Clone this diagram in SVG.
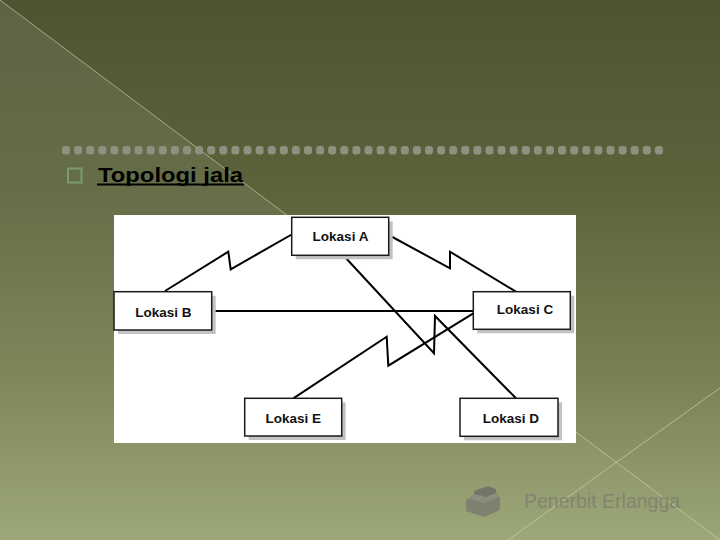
<svg xmlns="http://www.w3.org/2000/svg" width="720" height="540" viewBox="0 0 720 540">
<defs>
<linearGradient id="bg" x1="0" y1="0" x2="0" y2="1">
<stop offset="0" stop-color="#4e5432"/>
<stop offset="0.35" stop-color="#5b633b"/>
<stop offset="0.7" stop-color="#7a8254"/>
<stop offset="1" stop-color="#9ba677"/>
</linearGradient>
<linearGradient id="tri" x1="0" y1="0" x2="0" y2="1">
<stop offset="0" stop-color="#ffffff" stop-opacity="0.09"/>
<stop offset="1" stop-color="#ffffff" stop-opacity="0.02"/>
</linearGradient>
</defs>
<style>
.box{fill:#ffffff;stroke:#1a1a1a;stroke-width:1.5}
.shadow{fill:#c2c2c2}
.lbl{font-family:"Liberation Sans",Arial,sans-serif;font-weight:bold;font-size:13.5px;fill:#111;text-anchor:middle}
.link{fill:none;stroke:#000;stroke-width:2;stroke-linejoin:miter}
.deco{stroke:#d8dcae;stroke-width:1;opacity:0.6;fill:none}
</style>
<rect width="720" height="540" fill="url(#bg)"/>
<polygon points="0,0 720,540 0,540" fill="url(#tri)"/>
<line class="deco" x1="0" y1="0" x2="720" y2="540"/>
<line class="deco" x1="720" y1="388" x2="508" y2="540"/>

<g id="dotted-rule" fill="#8e9080">
<rect x="62" y="146" width="8" height="8.5" rx="3"/><rect x="74.1" y="146" width="8" height="8.5" rx="3"/><rect x="86.2" y="146" width="8" height="8.5" rx="3"/><rect x="98.3" y="146" width="8" height="8.5" rx="3"/><rect x="110.4" y="146" width="8" height="8.5" rx="3"/><rect x="122.5" y="146" width="8" height="8.5" rx="3"/><rect x="134.6" y="146" width="8" height="8.5" rx="3"/><rect x="146.7" y="146" width="8" height="8.5" rx="3"/><rect x="158.8" y="146" width="8" height="8.5" rx="3"/><rect x="170.9" y="146" width="8" height="8.5" rx="3"/><rect x="183" y="146" width="8" height="8.5" rx="3"/><rect x="195.1" y="146" width="8" height="8.5" rx="3"/><rect x="207.2" y="146" width="8" height="8.5" rx="3"/><rect x="219.3" y="146" width="8" height="8.5" rx="3"/><rect x="231.4" y="146" width="8" height="8.5" rx="3"/><rect x="243.5" y="146" width="8" height="8.5" rx="3"/><rect x="255.6" y="146" width="8" height="8.5" rx="3"/><rect x="267.7" y="146" width="8" height="8.5" rx="3"/><rect x="279.8" y="146" width="8" height="8.5" rx="3"/><rect x="291.9" y="146" width="8" height="8.5" rx="3"/><rect x="304" y="146" width="8" height="8.5" rx="3"/><rect x="316.1" y="146" width="8" height="8.5" rx="3"/><rect x="328.2" y="146" width="8" height="8.5" rx="3"/><rect x="340.3" y="146" width="8" height="8.5" rx="3"/><rect x="352.4" y="146" width="8" height="8.5" rx="3"/><rect x="364.5" y="146" width="8" height="8.5" rx="3"/><rect x="376.6" y="146" width="8" height="8.5" rx="3"/><rect x="388.7" y="146" width="8" height="8.5" rx="3"/><rect x="400.8" y="146" width="8" height="8.5" rx="3"/><rect x="412.9" y="146" width="8" height="8.5" rx="3"/><rect x="425" y="146" width="8" height="8.5" rx="3"/><rect x="437.1" y="146" width="8" height="8.5" rx="3"/><rect x="449.2" y="146" width="8" height="8.5" rx="3"/><rect x="461.3" y="146" width="8" height="8.5" rx="3"/><rect x="473.4" y="146" width="8" height="8.5" rx="3"/><rect x="485.5" y="146" width="8" height="8.5" rx="3"/><rect x="497.6" y="146" width="8" height="8.5" rx="3"/><rect x="509.7" y="146" width="8" height="8.5" rx="3"/><rect x="521.8" y="146" width="8" height="8.5" rx="3"/><rect x="533.9" y="146" width="8" height="8.5" rx="3"/><rect x="546" y="146" width="8" height="8.5" rx="3"/><rect x="558.1" y="146" width="8" height="8.5" rx="3"/><rect x="570.2" y="146" width="8" height="8.5" rx="3"/><rect x="582.3" y="146" width="8" height="8.5" rx="3"/><rect x="594.4" y="146" width="8" height="8.5" rx="3"/><rect x="606.5" y="146" width="8" height="8.5" rx="3"/><rect x="618.6" y="146" width="8" height="8.5" rx="3"/><rect x="630.7" y="146" width="8" height="8.5" rx="3"/><rect x="642.8" y="146" width="8" height="8.5" rx="3"/><rect x="654.9" y="146" width="8" height="8.5" rx="3"/>
</g>

<g id="title">
<rect x="68" y="168.5" width="13.5" height="14" fill="none" stroke="#7c9c6c" stroke-width="2"/>
<text x="98" y="181.5" font-family="'Liberation Sans',Arial,sans-serif" font-weight="bold" font-size="21" fill="#000" textLength="145" lengthAdjust="spacingAndGlyphs">Topologi jala</text>
<rect x="97" y="183.5" width="147" height="2" fill="#000"/>
</g>

<rect x="114" y="215" width="462" height="228" fill="#ffffff"/>

<g id="connectors">
<polyline class="link" points="165,291 228.3,251.7 230.7,269.3 291.7,234.5"/>
<polyline class="link" points="388.7,235 450,268.3 450,251.7 516,291.7"/>
<line class="link" x1="211.7" y1="311" x2="473.3" y2="311"/>
<polyline class="link" points="343.3,255.3 434,353.3 435,316 516,398.3"/>
<polyline class="link" points="293.3,398.3 386.7,336.7 388.3,365.7 473.3,313.3"/>
</g>

<g id="node-a">
<rect class="shadow" x="295.7" y="221.3" width="97" height="38"/>
<rect class="box" x="291.7" y="217.3" width="97" height="38"/>
<text class="lbl" x="340.5" y="240.7">Lokasi A</text>
</g>
<g id="node-b">
<rect class="shadow" x="118" y="295.7" width="97.7" height="38.3"/>
<rect class="box" x="114" y="291.7" width="97.7" height="38.3"/>
<text class="lbl" x="163.3" y="316.7">Lokasi B</text>
</g>
<g id="node-c">
<rect class="shadow" x="477.3" y="295.7" width="97" height="37.6"/>
<rect class="box" x="473.3" y="291.7" width="97" height="37.6"/>
<text class="lbl" x="525" y="314">Lokasi C</text>
</g>
<g id="node-e">
<rect class="shadow" x="248.7" y="402.3" width="97" height="37.7"/>
<rect class="box" x="244.7" y="398.3" width="97" height="37.7"/>
<text class="lbl" x="293.3" y="423.3">Lokasi E</text>
</g>
<g id="node-d">
<rect class="shadow" x="464" y="402.3" width="98" height="38"/>
<rect class="box" x="460" y="398.3" width="98" height="38"/>
<text class="lbl" x="510.8" y="423.3">Lokasi D</text>
</g>

<g id="footer" opacity="0.85">
<g fill="#7a7b70">
<path d="M466,500 L484,492 L500,497 L500,510 L484,517 L466,511 Z"/>
<path d="M470,496 L486,489 L498,493 L498,497 L484,503 L470,499 Z" fill="#8a8b80"/>
<path d="M474,491 L488,486 L496,489 L496,493 L486,497 L474,494 Z" fill="#6e6f65"/>
</g>
<text x="524" y="507.5" font-family="'Liberation Sans',Arial,sans-serif" font-size="19.5" fill="#7e8070">Penerbit Erlangga</text>
</g>
</svg>
